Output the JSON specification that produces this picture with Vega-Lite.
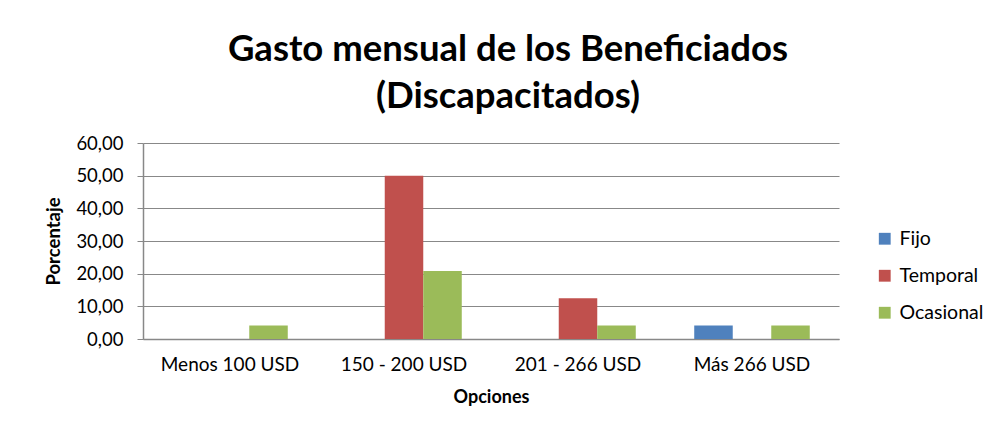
{
  "$schema": "https://vega.github.io/schema/vega-lite/v6.json",
  "autosize": {"type": "none"},
  "width": 696,
  "height": 196,
  "padding": {"left": 143, "top": 143, "right": 153, "bottom": 86},
  "background": "white",
  "title": {
    "text": ["Gasto mensual de los Beneficiados", "(Discapacitados)"],
    "font": "Lato",
    "fontSize": 36.5,
    "fontWeight": "bold",
    "color": "#000000",
    "anchor": "middle",
    "dx": 17,
    "offset": 19,
    "lineHeight": 47
  },
  "data": {
    "values": [
      {"opcion": "Menos 100 USD", "tipo": "Fijo", "valor": 0},
      {"opcion": "Menos 100 USD", "tipo": "Temporal", "valor": 0},
      {"opcion": "Menos 100 USD", "tipo": "Ocasional", "valor": 4.17},
      {"opcion": "150 - 200 USD", "tipo": "Fijo", "valor": 0},
      {"opcion": "150 - 200 USD", "tipo": "Temporal", "valor": 50.0},
      {"opcion": "150 - 200 USD", "tipo": "Ocasional", "valor": 20.83},
      {"opcion": "201 - 266 USD", "tipo": "Fijo", "valor": 0},
      {"opcion": "201 - 266 USD", "tipo": "Temporal", "valor": 12.5},
      {"opcion": "201 - 266 USD", "tipo": "Ocasional", "valor": 4.17},
      {"opcion": "Más 266 USD", "tipo": "Fijo", "valor": 4.17},
      {"opcion": "Más 266 USD", "tipo": "Temporal", "valor": 0},
      {"opcion": "Más 266 USD", "tipo": "Ocasional", "valor": 4.17}
    ]
  },
  "mark": {"type": "bar"},
  "encoding": {
    "x": {
      "field": "opcion",
      "type": "nominal",
      "sort": ["Menos 100 USD", "150 - 200 USD", "201 - 266 USD", "Más 266 USD"],
      "scale": {"paddingInner": 0.336, "paddingOuter": 0.168},
      "axis": {
        "title": "Opciones",
        "titleFont": "Lato",
        "titleFontSize": 18,
        "titleFontWeight": "bold",
        "titleColor": "#000000",
        "titlePadding": 14,
        "labelFont": "Lato",
        "labelFontSize": 19,
        "labelColor": "#000000",
        "labelAngle": 0,
        "labelPadding": 16,
        "ticks": false,
        "domainColor": "#888888",
        "domainWidth": 1.5
      }
    },
    "xOffset": {
      "field": "tipo",
      "type": "nominal",
      "sort": ["Fijo", "Temporal", "Ocasional"],
      "scale": {"paddingInner": 0, "paddingOuter": 0}
    },
    "y": {
      "field": "valor",
      "type": "quantitative",
      "scale": {"domain": [0, 60], "nice": false},
      "axis": {
        "title": "Porcentaje",
        "titleFont": "Lato",
        "titleFontSize": 18.5,
        "titleFontWeight": "bold",
        "titleColor": "#000000",
        "titlePadding": 12,
        "values": [0, 10, 20, 30, 40, 50, 60],
        "labelExpr": "replace(format(datum.value, '.2f'), '.', ',')",
        "labelFont": "Lato",
        "labelFontSize": 18.5,
        "labelColor": "#000000",
        "labelPadding": 14,
        "tickSize": 6,
        "tickColor": "#888888",
        "domainColor": "#888888",
        "domainWidth": 1.5,
        "gridColor": "#888888",
        "gridWidth": 1.2
      }
    },
    "color": {
      "field": "tipo",
      "type": "nominal",
      "sort": ["Fijo", "Temporal", "Ocasional"],
      "scale": {"domain": ["Fijo", "Temporal", "Ocasional"], "range": ["#4F81BD", "#C0504D", "#9BBB59"]},
      "legend": {
        "title": null,
        "orient": "none",
        "legendX": 732,
        "legendY": 86,
        "symbolType": "square",
        "symbolSize": 140,
        "symbolStrokeWidth": 0,
        "labelFont": "Lato",
        "labelFontSize": 19.5,
        "labelColor": "#000000",
        "labelOffset": 5,
        "rowPadding": 16
      }
    }
  },
  "config": {"view": {"stroke": null}}
}
